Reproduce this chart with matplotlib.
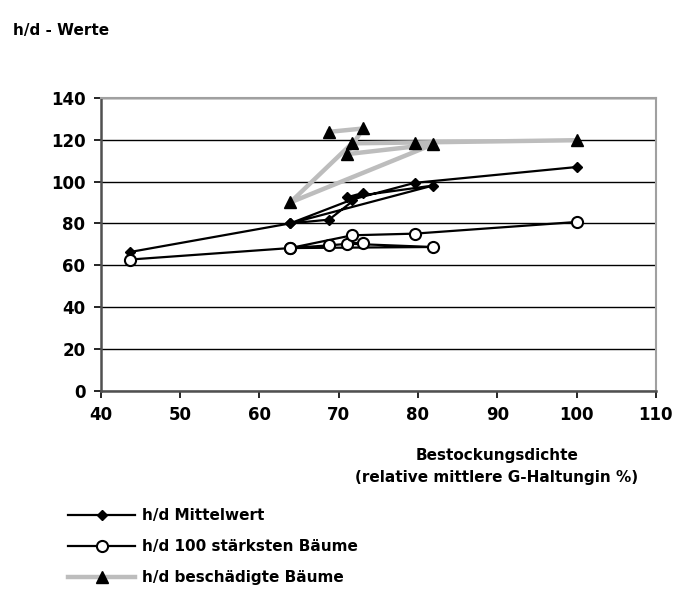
import numpy as np
import matplotlib
matplotlib.use('Agg')
import matplotlib.pyplot as plt

fontsize = 11
matplotlib.rcParams.update({
    'font.family': ['DejaVu Sans'],
    'font.weight': 'bold',
    'font.size': fontsize,
})

# Bestockungsdichte (relative mittlere G-Haltung in %), in der Reihenfolge der Datenreihe
dichte = [43.7, 63.9, 68.8, 73.1, 71.0, 81.9, 63.9, 71.7, 79.6, 100.1]
hd_mittel = [66.3, 80.0, 81.8, 94.6, 92.4, 98.1, 80.0, 91.4, 99.4, 107.0]
hd_100 = [62.7, 68.2, 69.5, 70.8, 70.3, 68.7, 68.2, 74.3, 75.1, 80.7]
hd_besch = [np.nan, np.nan, 123.8, 125.4, 113.1, 117.8, 90.0, 118.3, 118.7, 119.8]

x_ticks = [40, 50, 60, 70, 80, 90, 100, 110]
y_ticks = [0, 20, 40, 60, 80, 100, 120, 140]

fig = plt.figure(figsize=(6.94, 6.0), dpi=100)
ax = fig.add_axes([0.145, 0.349, 0.800, 0.4877])

ax.plot(dichte, hd_besch, color='#bdbdbd', lw=3.2, marker='^', ms=8.5,
        mfc='black', mec='black', label='h/d beschädigte Bäume', zorder=3)
ax.plot(dichte, hd_mittel, color='black', lw=1.6, marker='D', ms=5,
        mfc='black', mec='black', label='h/d Mittelwert', zorder=4)
ax.plot(dichte, hd_100, color='black', lw=1.6, marker='o', ms=8,
        mfc='white', mec='black', mew=1.5, label='h/d 100 stärksten Bäume', zorder=5)

ax.set_xlim(40, 110)
ax.set_ylim(0, 140)
ax.set_xticks(x_ticks)
ax.set_yticks(y_ticks)
ax.yaxis.grid(True, color='black', lw=1)
ax.set_axisbelow(True)
ax.tick_params(direction='out', length=5, width=1.2, labelsize=12, pad=6)

for s in ['left', 'bottom']:
    ax.spines[s].set_color('#505050')
    ax.spines[s].set_linewidth(1.8)
for s in ['top', 'right']:
    ax.spines[s].set_color('#a0a0a0')
    ax.spines[s].set_linewidth(1.5)

fig.text(0.019, 0.95, 'h/d - Werte', fontsize=11, ha='left', va='center')
fig.text(0.716, 0.223, 'Bestockungsdichte\n(relative mittlere G-Haltungin %)',
         fontsize=11, ha='center', va='center', linespacing=1.6)

handles, labels = ax.get_legend_handles_labels()
order = [1, 2, 0]
fig.legend([handles[i] for i in order], [labels[i] for i in order],
           loc='upper left', bbox_to_anchor=(0.098, 0.153), frameon=False,
           handlelength=4.4, handletextpad=0.45, labelspacing=1.05, fontsize=11,
           borderaxespad=0, borderpad=0)

fig.savefig('out.png', dpi=100)
